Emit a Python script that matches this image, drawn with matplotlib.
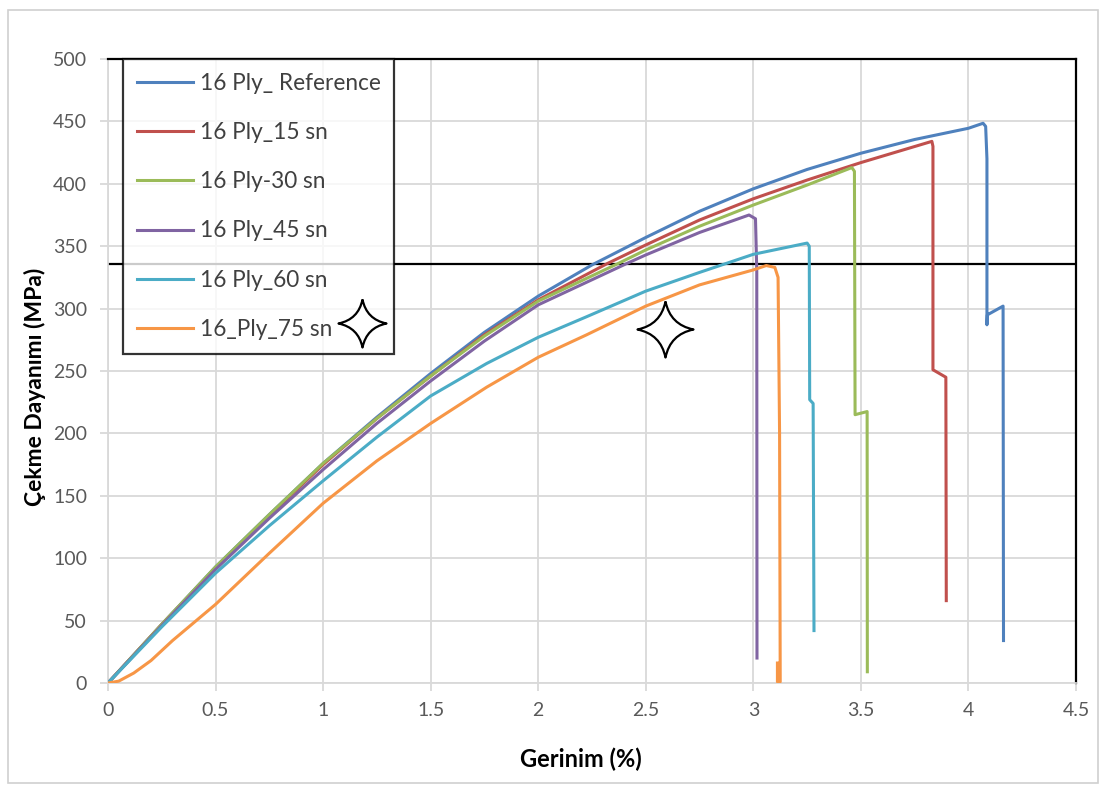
import numpy as np
import matplotlib
matplotlib.use("Agg")
import matplotlib.pyplot as plt
from matplotlib.path import Path
from matplotlib.patches import Rectangle

plt.rcParams['font.family'] = ['Lato', 'DejaVu Sans']

# strain (%) / strength (MPa)
ref_x = [0, 0.25, 0.5, 0.75, 1.0, 1.25, 1.5, 1.75, 2.0, 2.25, 2.5, 2.75, 3.0, 3.25, 3.5, 3.75, 4.0,
         4.068, 4.08, 4.086, 4.086, 4.088, 4.161, 4.163]
ref_y = [0, 47, 93, 135, 176, 213, 248, 281, 310, 335, 357, 378, 396, 411.5, 424.5, 435.5, 444.5,
         448.5, 446, 420, 287, 295, 302, 34]

s15_x = [0, 0.25, 0.5, 0.75, 1.0, 1.25, 1.5, 1.75, 2.0, 2.32, 2.5, 2.75, 3.0, 3.25, 3.5, 3.83,
         3.835, 3.835, 3.895, 3.897]
s15_y = [0, 47, 92, 134, 175, 212, 246, 279, 307, 336, 351, 371, 388, 403, 417, 434,
         430, 251, 245, 66]

s30_x = [0, 0.25, 0.5, 0.75, 1.0, 1.25, 1.5, 1.75, 2.0, 2.37, 2.5, 2.75, 3.0, 3.25, 3.458,
         3.47, 3.473, 3.529, 3.53]
s30_y = [0, 47, 93, 135, 176, 212, 246, 278, 306, 336, 347, 366, 383, 399, 413,
         410, 215, 217.5, 9]

s45_x = [0, 0.25, 0.5, 0.75, 1.0, 1.25, 1.5, 1.75, 2.0, 2.41, 2.5, 2.75, 2.98, 3.01, 3.016, 3.017]
s45_y = [0, 46, 91, 132, 171, 208, 242, 274, 303, 336, 343, 361, 375, 372, 330, 20]

s60_x = [0, 0.25, 0.5, 0.75, 1.0, 1.25, 1.5, 1.76, 2.0, 2.225, 2.5, 2.75, 3.0, 3.25,
         3.26, 3.262, 3.278, 3.282]
s60_y = [0, 45, 88, 126, 162, 197, 230, 256, 277, 293.5, 314, 329, 343.5, 352.5,
         350, 227, 224, 42]

s75_x = [0, 0.05, 0.12, 0.2, 0.3, 0.5, 0.75, 1.0, 1.25, 1.5, 1.76, 2.0, 2.225, 2.5, 2.75, 3.0,
         3.06, 3.1, 3.115, 3.122, 3.125, 3.112, 3.112]
s75_y = [0, 1.5, 8, 18, 34, 63, 104, 144, 178, 208, 237, 261, 279, 302, 319, 331,
         334.5, 333, 325, 200, 1, 1, 16]

labels = ['16 Ply_ Reference', '16 Ply_15 sn', '16 Ply-30 sn', '16 Ply_45 sn', '16 Ply_60 sn', '16_Ply_75 sn']
colors = ['#4F81BD', '#C0504D', '#9BBB59', '#8064A2', '#4BACC6', '#F79646']
xs = [ref_x, s15_x, s30_x, s45_x, s60_x, s75_x]
ys = [ref_y, s15_y, s30_y, s45_y, s60_y, s75_y]

W, H = 1101, 787
fig = plt.figure(figsize=(W/100, H/100), dpi=100)
ax = fig.add_axes([108/W, (H-683)/H, 968/W, 624/H])

# outer frame of the pasted chart
fig.patches.append(Rectangle((8/W, 4/H), 1090/W, 773/H, transform=fig.transFigure,
                             fill=False, edgecolor='#d0d0d0', lw=1.2))

for x, y, c, lab in zip(xs, ys, colors, labels):
    ax.plot(x, y, color=c, lw=2.2, label=lab, solid_joinstyle='round', zorder=3)

ax.axhline(336, color='black', lw=1.6, zorder=2)

ax.set_xlim(0, 4.5)
ax.set_ylim(0, 500)
ax.set_xticks(np.arange(0, 4.51, 0.5))
ax.set_xticklabels(['0', '0.5', '1', '1.5', '2', '2.5', '3', '3.5', '4', '4.5'])
ax.set_yticks(np.arange(0, 501, 50))
ax.grid(True, color='#d9d9d9', lw=1.3, zorder=0)
ax.set_axisbelow(True)

for s in ['top', 'right']:
    ax.spines[s].set_color('black')
    ax.spines[s].set_linewidth(1.6)
ax.spines['left'].set_color('#d9d9d9')
ax.spines['left'].set_linewidth(1.3)
ax.spines['bottom'].set_color('#d9d9d9')
ax.spines['bottom'].set_linewidth(1.3)
ax.tick_params(axis='both', colors='#d9d9d9', labelcolor='#595959', labelsize=14, length=6, width=1.3)
ax.tick_params(axis='y', pad=9)
ax.tick_params(axis='x', pad=8)

fig.text(581/W, 1 - 759/H, 'Gerinim (%)', ha='center', va='center', fontsize=17, fontweight='bold')
fig.text(35/W, 1 - 387/H, 'Çekme Dayanımı (MPa)', ha='center', va='center', rotation=90,
         fontsize=16.5, fontweight='bold')

leg = ax.legend(loc='upper left', bbox_to_anchor=(15/968, 1.0), fontsize=16.3, handlelength=2.5,
                labelspacing=1.25, frameon=True, fancybox=False, borderaxespad=0,
                handletextpad=0.3, borderpad=0.6)
leg.get_frame().set_edgecolor('black')
leg.get_frame().set_linewidth(1.6)
leg.set_zorder(5)
for t in leg.get_texts():
    t.set_color('#404040')

# four pointed star outlines drawn over the chart
c = 0.17
star = Path([(0, 1), (c, c), (1, 0), (c, -c), (0, -1), (-c, -c), (-1, 0), (-c, c), (0, 1)],
            [Path.MOVETO, Path.CURVE3, Path.CURVE3, Path.CURVE3, Path.CURVE3,
             Path.CURVE3, Path.CURVE3, Path.CURVE3, Path.CURVE3])
for px, py, sz in [(362, 323, 48), (665, 329, 56)]:
    ax.plot([(px-108)/968], [(683-py)/624], transform=ax.transAxes, marker=star, ms=sz*0.72,
            mfc='white', mec='black', mew=1.6, zorder=10, clip_on=False)

fig.savefig('out.png', dpi=100)
